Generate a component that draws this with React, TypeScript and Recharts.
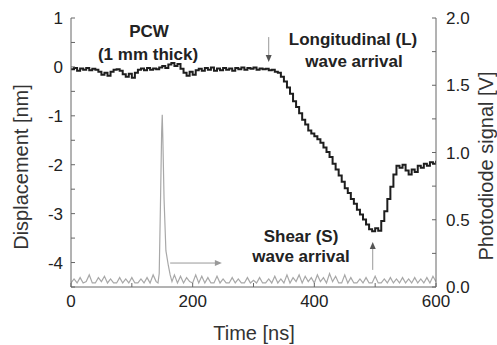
import { LineChart, Line, XAxis, YAxis, ReferenceLine, ReferenceDot } from "recharts";

// displacement trace (left axis, nm)
const dispTime = [
  0, 5, 10, 15, 20, 25, 30, 35, 40, 45,
  50, 55, 60, 65, 70, 75, 80, 85, 90, 95,
  100, 105, 110, 115, 120, 125, 130, 135, 140, 145,
  150, 155, 160, 165, 170, 175, 180, 185, 190, 195,
  200, 205, 210, 215, 220, 225, 230, 235, 240, 245,
  250, 255, 260, 265, 270, 275, 280, 285, 290, 295,
  300, 305, 310, 315, 320, 325, 330, 335, 340, 345,
  350, 355, 360, 365, 370, 375, 380, 385, 390, 395,
  400, 405, 410, 415, 420, 425, 430, 435, 440, 445,
  450, 455, 460, 465, 470, 475, 480, 485, 490, 495,
  500, 505, 510, 515, 520, 525, 530, 535, 540, 545,
  550, 555, 560, 565, 570, 575, 580, 585, 590, 595,
  600,
];
const dispNm = [
  -0.05, -0.02, -0.08, -0.03, -0.06, -0.02, -0.07, -0.04, -0.06, -0.1,
  -0.16, -0.12, -0.18, -0.1, -0.06, -0.05, -0.08, -0.15, -0.2, -0.14,
  -0.22, -0.12, -0.06, -0.03, -0.07, -0.02, -0.06, -0.03, -0.05, -0.01,
  0.02, -0.02, 0.05, 0.08, 0.02, 0.06, -0.04, -0.12, -0.18, -0.1,
  -0.16, -0.07, -0.04, -0.08, -0.02, -0.06, -0.01, -0.08, -0.03, -0.07,
  -0.02, -0.06, -0.03, -0.08, -0.02, -0.05, -0.01, -0.06, -0.02, -0.04,
  -0.01, -0.06, -0.03, -0.05, -0.04, -0.07, -0.06, -0.1, -0.12, -0.2,
  -0.3, -0.42, -0.55, -0.7, -0.82, -0.95, -1.08, -1.18, -1.3, -1.36,
  -1.42, -1.48, -1.55, -1.65, -1.74, -1.84, -1.98, -2.1, -2.22, -2.35,
  -2.48, -2.58, -2.7, -2.8, -2.92, -3.02, -3.12, -3.22, -3.32, -3.36,
  -3.3, -3.35, -3.15, -2.95, -2.7, -2.45, -2.2, -2.02, -2.06, -2.0,
  -2.12, -2.2, -2.1, -2.15, -2.02, -2.06, -1.98, -2.02, -1.95, -1.98,
  -1.92,
];

// photodiode trace (right axis, V)
const pdTime = [
  0, 5, 10, 15, 20, 25, 30, 35, 40, 45,
  50, 55, 60, 65, 70, 75, 80, 85, 90, 95,
  100, 105, 110, 115, 120, 125, 130, 135,
  140, 143, 145, 147, 149, 150, 151, 153, 156, 160, 163, 166,
  170, 175, 180, 185, 190, 195, 200, 205, 210, 215,
  220, 225, 230, 235, 240, 245, 250, 255, 260, 265,
  270, 275, 280, 285, 290, 295, 300, 305, 310, 315,
  320, 325, 330, 335, 340, 345, 350, 355, 360, 365,
  370, 375, 380, 385, 390, 395, 400, 405, 410, 415,
  420, 425, 430, 435, 440, 445, 450, 455, 460, 465,
  470, 475, 480, 485, 490, 495, 500, 505, 510, 515,
  520, 525, 530, 535, 540, 545, 550, 555, 560, 565,
  570, 575, 580, 585, 590, 595, 600,
];
const pdVolt = [
  0.03, 0.06, 0.03, 0.07, 0.03, 0.04, 0.09, 0.03, 0.03, 0.07,
  0.04, 0.08, 0.03, 0.06, 0.03, 0.03, 0.07, 0.03, 0.06, 0.03,
  0.07, 0.03, 0.03, 0.06, 0.03, 0.07, 0.03, 0.09,
  0.04, 0.03, 0.1, 0.6, 1.15, 1.28, 1.1, 0.65, 0.27, 0.16, 0.09, 0.04,
  0.09, 0.03, 0.08, 0.03, 0.07, 0.04, 0.03, 0.09, 0.03, 0.08,
  0.03, 0.07, 0.03, 0.03, 0.08, 0.03, 0.06, 0.03, 0.03, 0.07,
  0.03, 0.06, 0.03, 0.03, 0.07, 0.03, 0.05, 0.03, 0.07, 0.03,
  0.03, 0.06, 0.03, 0.08, 0.03, 0.06, 0.03, 0.09, 0.03, 0.07,
  0.04, 0.09, 0.03, 0.08, 0.04, 0.07, 0.03, 0.09, 0.04, 0.07,
  0.03, 0.1, 0.04, 0.08, 0.03, 0.03, 0.09, 0.03, 0.07, 0.03,
  0.03, 0.06, 0.03, 0.07, 0.03, 0.03, 0.08, 0.03, 0.03, 0.06,
  0.03, 0.07, 0.03, 0.06, 0.03, 0.07, 0.03, 0.06, 0.03, 0.07,
  0.03, 0.06, 0.03, 0.07, 0.03, 0.08, 0.04,
];

const timeTicks = [0, 100, 200, 300, 400, 500, 600];
const dispTicks = [1, 0.5, 0, -0.5, -1, -1.5, -2, -2.5, -3, -3.5, -4, -4.5];
const voltTicks = [0, 0.25, 0.5, 0.75, 1, 1.25, 1.5, 1.75, 2];

const dispData = dispTime.map((t, i) => ({ t, v: dispNm[i] }));
const pdData = pdTime.map((t, i) => ({ t, v: pdVolt[i] }));

const font = "'Liberation Sans', Arial, sans-serif";
const tickStyle = { fontSize: 17, fill: "#222", fontFamily: font };
const axisColor = "#666";

function head(dir: "down" | "up" | "right", color: string) {
  return (props: any) => {
    const { cx, cy } = props;
    let d = "";
    if (dir === "down") d = `M${cx - 3},${cy - 7} L${cx + 3},${cy - 7} L${cx},${cy} Z`;
    if (dir === "up") d = `M${cx - 3},${cy + 7} L${cx + 3},${cy + 7} L${cx},${cy} Z`;
    if (dir === "right") d = `M${cx - 7},${cy - 3} L${cx - 7},${cy + 3} L${cx},${cy} Z`;
    return <path d={d} fill={color} />;
  };
}

const note = (text: string, cx: number, cy: number) => (
  <div
    style={{
      position: "absolute",
      left: cx - 100,
      top: cy - 10,
      width: 200,
      textAlign: "center",
      fontFamily: font,
      fontWeight: "bold",
      fontSize: 17,
      lineHeight: "20px",
      color: "#222",
      whiteSpace: "nowrap",
    }}
  >
    {text}
  </div>
);

export default function App() {
  return (
    <div style={{ position: "absolute", left: 0, top: 0, width: 497, height: 345, background: "#fff" }}>
      <LineChart width={497} height={345} margin={{ top: 18, right: 0, bottom: 0, left: 0 }}>
        <XAxis
          dataKey="t"
          type="number"
          domain={[0, 600]}
          ticks={timeTicks}
          interval={0}
          tickFormatter={(v) => (v % 200 === 0 ? String(v) : "")}
          tick={tickStyle}
          tickSize={-4}
          tickMargin={12}
          height={58}
          stroke={axisColor}
          allowDataOverflow
        />
        <XAxis
          xAxisId="top"
          orientation="top"
          dataKey="t"
          type="number"
          domain={[0, 600]}
          ticks={timeTicks}
          interval={0}
          tick={false}
          tickSize={-4}
          height={0}
          stroke={axisColor}
        />
        <YAxis
          yAxisId="left"
          type="number"
          domain={[-4.5, 1]}
          ticks={dispTicks}
          interval={0}
          tickFormatter={(v) => (Number.isInteger(v) ? String(v) : "")}
          tick={tickStyle}
          tickSize={-4}
          tickMargin={12}
          width={71}
          stroke={axisColor}
          allowDataOverflow
        />
        <YAxis
          yAxisId="right"
          orientation="right"
          type="number"
          domain={[0, 2]}
          ticks={voltTicks}
          interval={0}
          tickFormatter={(v) => (Number.isInteger(v * 2) ? v.toFixed(1) : "")}
          tick={tickStyle}
          tickSize={-4}
          tickMargin={14}
          width={61}
          stroke={axisColor}
          allowDataOverflow
        />
        <Line
          yAxisId="right"
          data={pdData}
          dataKey="v"
          type="linear"
          stroke="#a8a8a8"
          strokeWidth={1.2}
          dot={false}
          isAnimationActive={false}
        />
        <Line
          yAxisId="left"
          data={dispData}
          dataKey="v"
          type="stepAfter"
          stroke="#1e1e1e"
          strokeWidth={2}
          dot={false}
          isAnimationActive={false}
        />
        <ReferenceLine yAxisId="left" segment={[{ x: 325, y: 0.61 }, { x: 325, y: 0.16 }]} stroke="#999" strokeWidth={1} />
        <ReferenceDot yAxisId="left" x={325} y={0.1} r={3} shape={head("down", "#555")} />
        <ReferenceLine yAxisId="left" segment={[{ x: 496, y: -4.15 }, { x: 496, y: -3.64 }]} stroke="#999" strokeWidth={1} />
        <ReferenceDot yAxisId="left" x={496} y={-3.58} r={3} shape={head("up", "#555")} />
        <ReferenceLine yAxisId="left" segment={[{ x: 163, y: -4.01 }, { x: 244, y: -4.01 }]} stroke="#999" strokeWidth={1} />
        <ReferenceDot yAxisId="left" x={248} y={-4.01} r={3} shape={head("right", "#999")} />
      </LineChart>

      {note("PCW", 149, 32)}
      {note("(1 mm thick)", 148, 55)}
      {note("Longitudinal (L)", 353, 40)}
      {note("wave arrival", 354, 62)}
      {note("Shear (S)", 301, 237)}
      {note("wave arrival", 301, 257)}

      <div
        style={{
          position: "absolute",
          left: 21 - 110,
          top: 167 - 12,
          width: 220,
          textAlign: "center",
          transform: "rotate(-90deg)",
          fontFamily: font,
          fontSize: 20,
          lineHeight: "24px",
          color: "#333",
        }}
      >
        Displacement [nm]
      </div>
      <div
        style={{
          position: "absolute",
          left: 486 - 120,
          top: 166 - 12,
          width: 240,
          textAlign: "center",
          transform: "rotate(-90deg)",
          fontFamily: font,
          fontSize: 20,
          lineHeight: "24px",
          color: "#333",
        }}
      >
        Photodiode signal [V]
      </div>
      <div
        style={{
          position: "absolute",
          left: 254 - 100,
          top: 333 - 12,
          width: 200,
          textAlign: "center",
          fontFamily: font,
          fontSize: 20,
          lineHeight: "24px",
          color: "#333",
        }}
      >
        Time [ns]
      </div>
    </div>
  );
}
